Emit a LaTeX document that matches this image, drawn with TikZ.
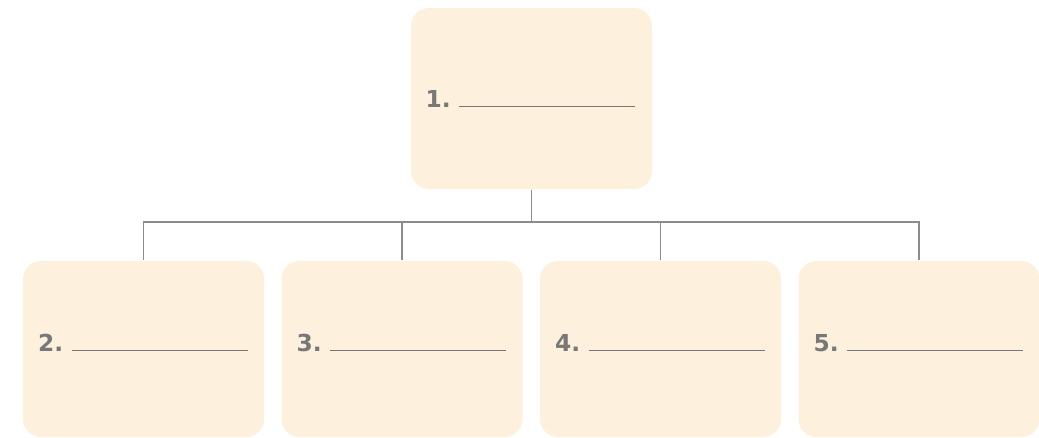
\documentclass[tikz,border=0pt]{standalone}
\usepackage{fontspec}
\setmainfont{DejaVu Sans}
\usetikzlibrary{positioning}
\definecolor{boxfill}{RGB}{253,240,220}
\definecolor{linegray}{RGB}{140,140,140}
\definecolor{textgray}{RGB}{120,120,120}
\newcommand{\blankline}[1]{\textbf{#1}\hspace{6.5pt}\rule{132pt}{1.1pt}}

\begin{document}
\begin{tikzpicture}[x=0.75pt,y=-0.75pt, line width=1pt, draw=linegray]
				\tikzstyle{box}=[rectangle, rounded corners=13.5pt, fill=boxfill, inner sep=0pt, minimum width=180.75pt]
				\tikzstyle{top box}=[box, minimum height=135.75pt]
				\tikzstyle{sub box}=[box, minimum height=132pt]
				\tikzstyle{label}=[inner sep=0pt, anchor=base, text=textgray, font=\fontsize{17.5}{19}\selectfont]
				\useasboundingbox (0,0) rectangle (1039,437);
				
				% Top box
				\node[top box] (T) at (531.5,98.5) {};
				\node[label] (L-1) at (530.5,107) {\blankline{1.}};
				
				% Bottom boxes
				\foreach \name / \x in {2/143.5, 3/402, 4/660.5, 5/919}
				{
				\node[sub box] (B-\name) at (\x,349) {};
				\node[label] (L-\name) at (\x-0.5,351) {\blankline{\name.}};
				}
				
				% Connectors
				\coordinate (J) at (531.5,222);
				\draw (T.south) -- (J);
				\foreach \name in {2,...,5}
				\draw (J) -| (B-\name.north);
\end{tikzpicture}
\end{document}
